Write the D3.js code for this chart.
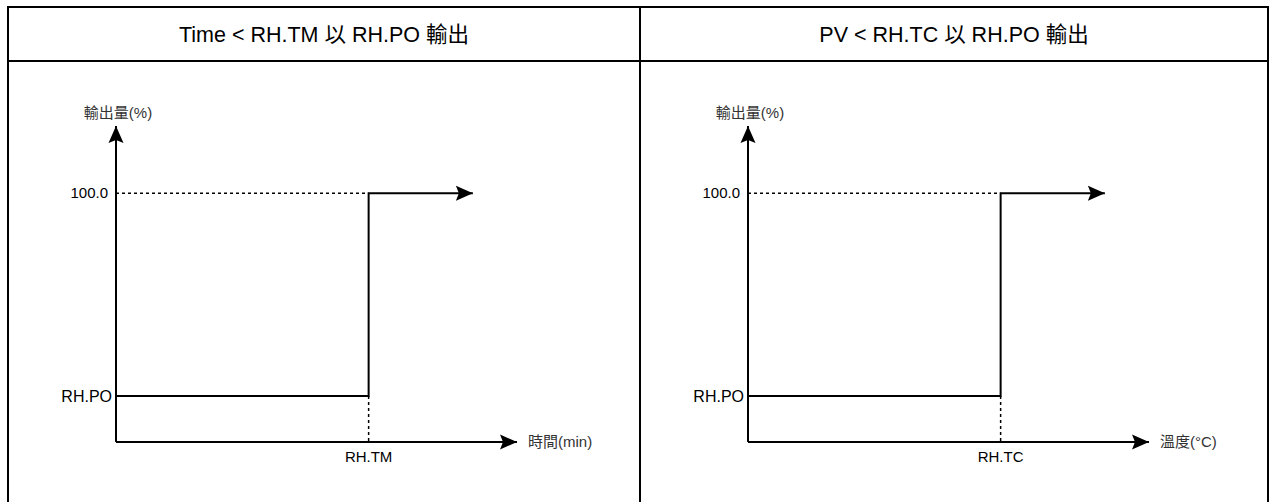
<!DOCTYPE html>
<html>
<head>
<meta charset="utf-8">
<script src="https://cdn.jsdelivr.net/npm/d3@7"></script>
<style>
  body { margin: 0; background: #fff; }
  svg { display: block; }
  text { font-family: "Liberation Sans", Arial, "Noto Sans CJK TC", sans-serif; fill: #000; }
  .cjk { fill: #333; }
</style>
</head>
<body>
<div id="chart"></div>
<script>
// panel texts
const panelTitles = ['Time < RH.TM 以 RH.PO 輸出', 'PV < RH.TC 以 RH.PO 輸出']
const xAxisLabels = ['時間(min)', '溫度(°C)']
const stepLabels = ['RH.TM', 'RH.TC']
const yAxisLabel = '輸出量(%)'

// output levels (y values) and their tick labels
const levelValues = [18.5, 100]
const levelLabels = ['RH.PO', '100.0']

// x positions: where the step happens and where the top line ends
const stepValues = [63, 63]
const lineEndValues = [89, 89]

const xMax = 100
const yMax = 127

let width = 1276
let height = 502
let margin = { left: 8, top: 7, right: 8, header: 54 }
let panelWidth = 632

function translation (x, y) {
  return 'translate(' + x + ',' + y + ')'
}

let svg = d3.select('#chart').append('svg')
  .attr('width', width)
  .attr('height', height)

let defs = svg.append('defs')
defs.append('marker')
  .attr('id', 'arrow')
  .attr('viewBox', '0 -8 18 16')
  .attr('refX', 17)
  .attr('refY', 0)
  .attr('markerWidth', 18)
  .attr('markerHeight', 16)
  .attr('markerUnits', 'userSpaceOnUse')
  .attr('orient', 'auto')
  .append('path')
  .attr('d', 'M0,-7.5L17,0L0,7.5L3,0Z')
  .attr('fill', '#000')

// scales for one panel (local coords)
let xScale = d3.scaleLinear().domain([0, xMax]).range([108, 509])
let yScale = d3.scaleLinear().domain([0, yMax]).range([442, 126])

// DRAW TABLE FRAME
let right = width - margin.right
let frame = svg.append('g').attr('class', 'frame')
frame.append('path')
  .attr('d', 'M' + margin.left + ',' + (height + 5) +
    'V' + margin.top + 'H' + right + 'V' + (height + 5))
  .attr('fill', 'none')
  .attr('stroke', '#000')
  .attr('stroke-width', 2)
frame.append('line')
  .attr('x1', margin.left).attr('x2', right)
  .attr('y1', margin.top + margin.header).attr('y2', margin.top + margin.header)
  .attr('stroke', '#000').attr('stroke-width', 2)
frame.append('line')
  .attr('x1', margin.left + panelWidth).attr('x2', margin.left + panelWidth)
  .attr('y1', margin.top).attr('y2', height + 5)
  .attr('stroke', '#000').attr('stroke-width', 2)

// DRAW PANELS
panelTitles.forEach(function (title, i) {
  let g = svg.append('g')
    .attr('transform', translation(margin.left + panelWidth * i, 0))

  let cellWidth = i === 0 ? panelWidth : right - margin.left - panelWidth
  g.append('text')
    .attr('x', cellWidth / 2)
    .attr('y', margin.top + margin.header / 2)
    .attr('dy', '0.35em')
    .attr('text-anchor', 'middle')
    .style('font-size', '21.5px')
    .text(title)

  let x0 = xScale(0)
  let y0 = yScale(0)
  let xs = xScale(stepValues[i])
  let yLow = yScale(levelValues[0])
  let yHigh = yScale(levelValues[1])

  // dashed guides
  g.append('line')
    .attr('x1', x0).attr('x2', xs)
    .attr('y1', yHigh).attr('y2', yHigh)
    .attr('stroke', '#000').attr('stroke-width', 1.5)
    .attr('stroke-dasharray', '3,3')
  g.append('line')
    .attr('x1', xs).attr('x2', xs)
    .attr('y1', yLow).attr('y2', y0)
    .attr('stroke', '#000').attr('stroke-width', 1.5)
    .attr('stroke-dasharray', '3,3')

  // axes
  g.append('line')
    .attr('x1', x0).attr('x2', x0)
    .attr('y1', y0).attr('y2', yScale(yMax))
    .attr('stroke', '#000').attr('stroke-width', 2)
    .attr('marker-end', 'url(#arrow)')
  g.append('line')
    .attr('x1', x0).attr('x2', xScale(xMax))
    .attr('y1', y0).attr('y2', y0)
    .attr('stroke', '#000').attr('stroke-width', 2)
    .attr('marker-end', 'url(#arrow)')

  // output step line
  g.append('path')
    .attr('d', 'M' + x0 + ',' + yLow + 'H' + xs + 'V' + yHigh + 'H' + xScale(lineEndValues[i]))
    .attr('fill', 'none')
    .attr('stroke', '#000').attr('stroke-width', 2)
    .attr('marker-end', 'url(#arrow)')

  // labels
  levelValues.forEach(function (v, j) {
    g.append('text')
      .attr('x', x0 - (j === 0 ? 4 : 8))
      .attr('y', yScale(v))
      .attr('dy', '0.35em')
      .attr('text-anchor', 'end')
      .style('font-size', j === 0 ? '16px' : '15px')
      .text(levelLabels[j])
  })

  g.append('text')
    .attr('class', 'cjk')
    .attr('x', x0 + 2)
    .attr('y', 113)
    .attr('dy', '0.35em')
    .attr('text-anchor', 'middle')
    .style('font-size', '15px')
    .text(yAxisLabel)

  g.append('text')
    .attr('x', xs)
    .attr('y', y0 + 15)
    .attr('dy', '0.35em')
    .attr('text-anchor', 'middle')
    .style('font-size', '15px')
    .text(stepLabels[i])

  g.append('text')
    .attr('class', 'cjk')
    .attr('x', xScale(xMax) + 11)
    .attr('y', y0)
    .attr('dy', '0.35em')
    .style('font-size', '15px')
    .text(xAxisLabels[i])
})
</script>
</body>
</html>
